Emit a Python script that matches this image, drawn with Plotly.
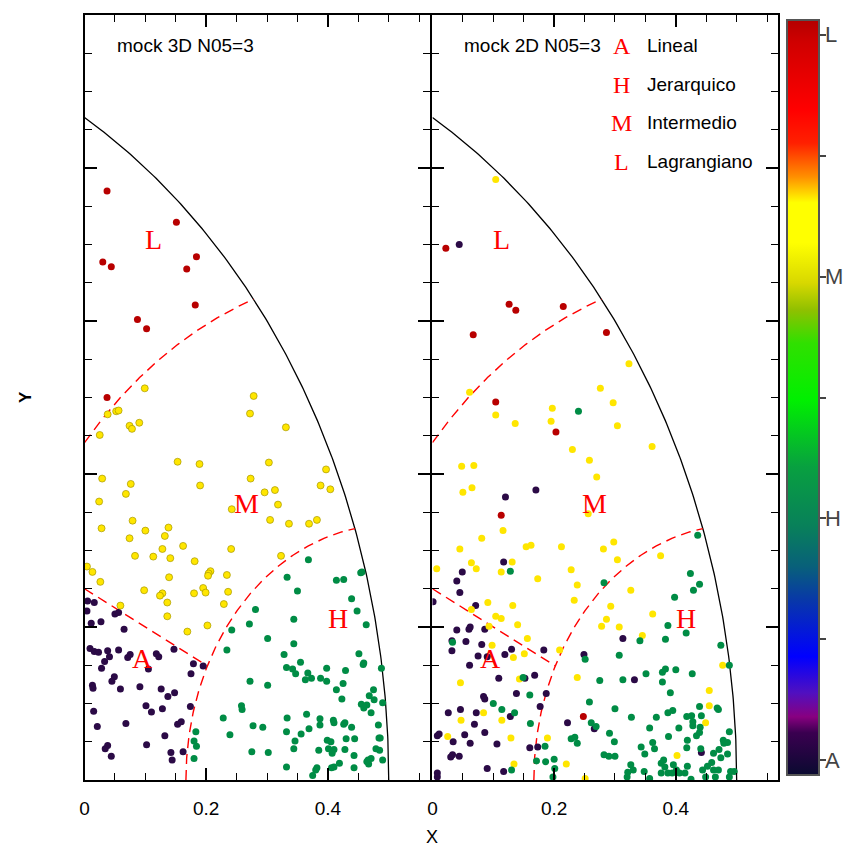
import numpy as np
import plotly.graph_objects as go

# ---------------- data: left panel (mock 3D) ----------------
l3_x = [0.037, 0.151, 0.030, 0.044, 0.184, 0.168, 0.087, 0.102, 0.182, 0.037]
l3_y = [0.770, 0.729, 0.677, 0.671, 0.684, 0.668, 0.602, 0.590, 0.621, 0.500]

m3_x = [0.099, 0.038, 0.052, 0.056, 0.025, 0.074, 0.078, 0.090, 0.278, 0.272,
        0.331, 0.153, 0.189, 0.303, 0.273, 0.397, 0.029, 0.076, 0.068, 0.190,
        0.296, 0.313, 0.318, 0.388, 0.404, 0.024, 0.242, 0.079, 0.305, 0.336,
        0.369, 0.382, 0.028, 0.100, 0.138, 0.132, 0.074, 0.128, 0.162, 0.241,
        0.083, 0.113, 0.141, 0.004, 0.013, 0.026, 0.181, 0.323, 0.207, 0.204,
        0.203, 0.234, 0.139, 0.098, 0.128, 0.124, 0.180, 0.195, 0.199, 0.236,
        0.136, 0.229, 0.059, 0.136, 0.169, 0.202]
m3_y = [0.512, 0.478, 0.482, 0.483, 0.451, 0.463, 0.459, 0.467, 0.502, 0.479,
        0.461, 0.416, 0.413, 0.415, 0.394, 0.406, 0.394, 0.387, 0.374, 0.385,
        0.376, 0.379, 0.360, 0.385, 0.380, 0.364, 0.354, 0.339, 0.340, 0.335,
        0.335, 0.340, 0.329, 0.326, 0.330, 0.319, 0.316, 0.302, 0.306, 0.302,
        0.293, 0.292, 0.290, 0.279, 0.272, 0.259, 0.286, 0.293, 0.273, 0.270,
        0.267, 0.268, 0.265, 0.248, 0.244, 0.241, 0.244, 0.251, 0.245, 0.246,
        0.232, 0.230, 0.228, 0.214, 0.194, 0.202]

a3_x = [0.005, 0.016, 0.004, 0.011, 0.027, 0.050, 0.056, 0.065, 0.009, 0.016,
        0.023, 0.038, 0.041, 0.033, 0.028, 0.056, 0.071, 0.075, 0.118, 0.122,
        0.147, 0.105, 0.179, 0.195, 0.175, 0.049, 0.045, 0.013, 0.014, 0.059,
        0.091, 0.126, 0.148, 0.137, 0.101, 0.110, 0.128, 0.174, 0.015, 0.021,
        0.068, 0.153, 0.159, 0.132, 0.038, 0.034, 0.102, 0.044, 0.142, 0.144, 0.162]
a3_y = [0.234, 0.232, 0.221, 0.205, 0.207, 0.217, 0.219, 0.197, 0.172, 0.168,
        0.167, 0.169, 0.161, 0.155, 0.146, 0.170, 0.160, 0.164, 0.165, 0.161,
        0.171, 0.145, 0.152, 0.149, 0.139, 0.135, 0.129, 0.124, 0.120, 0.119,
        0.122, 0.119, 0.114, 0.109, 0.097, 0.089, 0.093, 0.096, 0.090, 0.070,
        0.074, 0.073, 0.076, 0.058, 0.045, 0.041, 0.046, 0.031, 0.036, 0.026, 0.037]

h3_x = [0.368, 0.333, 0.350, 0.414, 0.426, 0.456, 0.454, 0.439, 0.448, 0.463,
        0.281, 0.271, 0.242, 0.344, 0.301, 0.234, 0.328, 0.344, 0.332, 0.355,
        0.342, 0.347, 0.367, 0.363, 0.373, 0.388, 0.398, 0.398, 0.414, 0.429,
        0.425, 0.423, 0.451, 0.459, 0.458, 0.488, 0.272, 0.301, 0.468, 0.475,
        0.476, 0.455, 0.459, 0.464, 0.471, 0.490, 0.258, 0.259, 0.228, 0.239,
        0.277, 0.293, 0.275, 0.302, 0.183, 0.180, 0.184, 0.180, 0.333, 0.332,
        0.346, 0.356, 0.365, 0.369, 0.344, 0.387, 0.387, 0.409, 0.410, 0.426,
        0.428, 0.439, 0.430, 0.444, 0.385, 0.399, 0.405, 0.401, 0.410, 0.407,
        0.428, 0.443, 0.419, 0.410, 0.406, 0.382, 0.380, 0.375, 0.332, 0.443,
        0.466, 0.467, 0.471, 0.464, 0.479, 0.485, 0.490, 0.484, 0.486, 0.483]
h3_y = [0.288, 0.265, 0.247, 0.261, 0.262, 0.272, 0.271, 0.237, 0.221, 0.203,
        0.223, 0.204, 0.196, 0.210, 0.185, 0.170, 0.164, 0.178, 0.147, 0.154,
        0.145, 0.139, 0.140, 0.131, 0.133, 0.133, 0.129, 0.146, 0.118, 0.143,
        0.126, 0.106, 0.165, 0.153, 0.151, 0.146, 0.129, 0.124, 0.110, 0.118,
        0.105, 0.099, 0.094, 0.098, 0.088, 0.101, 0.097, 0.092, 0.081, 0.059,
        0.071, 0.069, 0.037, 0.036, 0.063, 0.051, 0.044, 0.028, 0.081, 0.063,
        0.051, 0.060, 0.086, 0.067, 0.041, 0.080, 0.072, 0.078, 0.075, 0.073,
        0.075, 0.069, 0.054, 0.054, 0.039, 0.052, 0.050, 0.041, 0.040, 0.035,
        0.040, 0.032, 0.022, 0.017, 0.016, 0.016, 0.013, 0.006, 0.017, 0.016,
        0.026, 0.021, 0.028, 0.024, 0.041, 0.039, 0.026, 0.055, 0.055, 0.072]

# ---------------- data: right panel (mock 2D) ----------------
l2_x = [0.022, 0.126, 0.137, 0.215, 0.067, 0.286, 0.104, 0.203, 0.113, 0.248]
l2_y = [0.695, 0.622, 0.614, 0.619, 0.582, 0.585, 0.494, 0.455, 0.346, 0.083]

m2_x = [0.104, 0.323, 0.061, 0.276, 0.297, 0.197, 0.104, 0.136, 0.195, 0.304, 0.361,
        0.230, 0.258, 0.270, 0.048, 0.068, 0.050, 0.065, 0.256, 0.116, 0.081,
        0.045, 0.154, 0.162, 0.212, 0.281, 0.298, 0.007, 0.064, 0.072, 0.113,
        0.131, 0.173, 0.228, 0.238, 0.233, 0.091, 0.064, 0.132, 0.104, 0.113,
        0.093, 0.140, 0.156, 0.098, 0.133, 0.151, 0.209, 0.326, 0.293, 0.286,
        0.278, 0.307, 0.362, 0.345, 0.375, 0.304, 0.477, 0.455, 0.455, 0.449,
        0.046, 0.143, 0.238, 0.084, 0.047, 0.114, 0.025, 0.129, 0.189, 0.220,
        0.134, 0.251, 0.402]
m2_y = [0.785, 0.544, 0.507, 0.512, 0.493, 0.486, 0.477, 0.466, 0.469, 0.463, 0.436,
        0.432, 0.418, 0.396, 0.410, 0.411, 0.376, 0.382, 0.348, 0.326, 0.316,
        0.302, 0.305, 0.307, 0.305, 0.302, 0.311, 0.276, 0.284, 0.276, 0.272,
        0.285, 0.263, 0.275, 0.255, 0.235, 0.232, 0.223, 0.228, 0.214, 0.211,
        0.201, 0.203, 0.185, 0.176, 0.160, 0.165, 0.170, 0.248, 0.227, 0.210,
        0.201, 0.200, 0.217, 0.189, 0.293, 0.288, 0.150, 0.117, 0.097, 0.075,
        0.127, 0.132, 0.134, 0.088, 0.078, 0.078, 0.057, 0.055, 0.055, 0.021,
        0.021, 0.002, 0.032]

a2_x = [0.044, 0.170, 0.120,
        0.117, 0.049, 0.040, 0.045, 0.001, 0.071, 0.040, 0.060, 0.062, 0.086,
        0.032, 0.032, 0.055, 0.081, 0.075, 0.090, 0.061, 0.119, 0.130, 0.183,
        0.249, 0.313, 0.109, 0.152, 0.168, 0.332, 0.084, 0.086, 0.138, 0.187,
        0.177, 0.046, 0.026, 0.072, 0.128, 0.222, 0.266, 0.069, 0.086, 0.053,
        0.008, 0.011, 0.034, 0.062, 0.106, 0.160, 0.173, 0.033, 0.030, 0.044,
        0.090, 0.117, 0.008, 0.008, 0.442]
a2_y = [0.700, 0.379, 0.370,
        0.285, 0.272, 0.260, 0.245, 0.233, 0.228, 0.196, 0.197, 0.200, 0.197,
        0.182, 0.169, 0.181, 0.177, 0.162, 0.161, 0.150, 0.164, 0.171, 0.170,
        0.164, 0.185, 0.133, 0.133, 0.137, 0.131, 0.109, 0.106, 0.113, 0.113,
        0.096, 0.092, 0.088, 0.088, 0.083, 0.075, 0.067, 0.073, 0.062, 0.059,
        0.058, 0.060, 0.050, 0.048, 0.047, 0.042, 0.043, 0.033, 0.030, 0.031,
        0.015, 0.011, 0.009, 0.004, 0.036]

h2_x = [0.240, 0.436,
        0.128, 0.033, 0.282, 0.307, 0.341, 0.383, 0.387, 0.417, 0.398, 0.424,
        0.439, 0.429, 0.474, 0.488, 0.251, 0.149, 0.160, 0.275, 0.313, 0.351,
        0.378, 0.383, 0.400, 0.427, 0.378, 0.391, 0.100, 0.114, 0.135, 0.258,
        0.300, 0.327, 0.368, 0.387, 0.395, 0.418, 0.426, 0.439, 0.442, 0.428,
        0.428, 0.440, 0.434, 0.405, 0.388, 0.357, 0.362, 0.365, 0.343, 0.349,
        0.291, 0.299, 0.228, 0.234, 0.238, 0.261, 0.269, 0.161, 0.185, 0.171,
        0.186, 0.200, 0.201, 0.198, 0.130, 0.282, 0.290, 0.300, 0.326, 0.330,
        0.321, 0.320, 0.348, 0.357, 0.376, 0.380, 0.382, 0.387, 0.376, 0.396,
        0.401, 0.406, 0.419, 0.425, 0.444, 0.452, 0.459, 0.462, 0.449, 0.465,
        0.470, 0.474, 0.471, 0.462, 0.478, 0.485, 0.488, 0.479, 0.485, 0.490,
        0.496, 0.488, 0.418, 0.419, 0.441, 0.468, 0.470, 0.439, 0.415, 0.394]
h2_y = [0.482, 0.320,
        0.273, 0.180, 0.258, 0.163, 0.182, 0.184, 0.202, 0.192, 0.239, 0.270,
        0.256, 0.248, 0.176, 0.150, 0.158, 0.134, 0.111, 0.130, 0.131, 0.139,
        0.141, 0.145, 0.144, 0.139, 0.128, 0.114, 0.100, 0.092, 0.088, 0.102,
        0.093, 0.082, 0.082, 0.088, 0.091, 0.083, 0.084, 0.096, 0.084, 0.076,
        0.071, 0.069, 0.058, 0.068, 0.057, 0.068, 0.049, 0.041, 0.043, 0.034,
        0.061, 0.050, 0.054, 0.056, 0.048, 0.075, 0.070, 0.074, 0.044, 0.025,
        0.024, 0.027, 0.015, 0.004, 0.013, 0.033, 0.031, 0.031, 0.020, 0.013,
        0.010, 0.004, 0.011, 0.002, 0.022, 0.026, 0.017, 0.009, 0.009, 0.020,
        0.013, 0.009, 0.018, 0.001, 0.013, 0.018, 0.023, 0.013, 0.004, 0.004,
        0.013, 0.029, 0.040, 0.035, 0.052, 0.049, 0.063, 0.048, 0.034, 0.011,
        0.011, 0.004, 0.042, 0.052, 0.041, 0.094, 0.092, 0.062, 0.009, 0.009]

panel_titles = ["mock 3D N05=3", "mock 2D N05=3"]
class_codes = ["A", "H", "M", "L"]
class_names = ["Lineal", "Jerarquico", "Intermedio", "Lagrangiano"]
class_values = [0, 1, 2, 3]
cbar_ticks = [0, 0.5, 1, 1.5, 2, 2.5, 3]
xtick_vals = [0, 0.2, 0.4]
xtick_text = ["0", "0.2", "0.4"]

# geometry of the region boundaries
OUT_C, OUT_R = (-0.5, 0.0), 1.0          # outer boundary circle
CL_C = (0.5, 0.0)                         # centre of the class circles
R_H, R_M = 1.0 / 3.0, 2.0 / 3.0
A_Y0 = 0.25                               # A boundary starts at (0, A_Y0)

COLORS = {"A": "#2b0a46", "H": "#008c45", "M": "#ffe600", "L": "#b80000"}
W = H = 846
X0L, X1L, X0R, X1R = 80, 428, 430, 778
PXU = 612.0                               # pixels per x unit
YT, YB = 15, 780
CB_X, CB_TOP, CB_LEN, CB_THICK = 787, 20, 755, 32
CMIN, CMAX = -0.06, 3.06

colorscale = [
    [0.000, "#0a0a30"], [0.056, "#3a0050"], [0.077, "#880080"], [0.109, "#5010c0"],
    [0.157, "#0000ff"], [0.232, "#0838a8"], [0.276, "#08607a"], [0.329, "#08805a"],
    [0.408, "#08a040"], [0.497, "#00f000"], [0.572, "#30e000"], [0.616, "#90c000"],
    [0.652, "#d8d800"], [0.705, "#ffff00"], [0.758, "#ffff00"], [0.792, "#ff9000"],
    [0.837, "#ff2000"], [0.881, "#ff0000"], [0.970, "#d00000"], [1.000, "#b40000"],
]

fig = go.Figure()


def arc(c, r, t0, t1, n=200):
    t = np.linspace(t0, t1, n)
    return c[0] + r * np.cos(t), c[1] + r * np.sin(t)


def outer_intersect(r):
    d = CL_C[0] - OUT_C[0]
    xi = OUT_C[0] + (d ** 2 + OUT_R ** 2 - r ** 2) / (2 * d)
    yi = np.sqrt(OUT_R ** 2 - (xi - OUT_C[0]) ** 2)
    return xi, yi


def add_boundaries(xa, ya):
    t_top = np.arctan2(np.sqrt(OUT_R ** 2 - OUT_C[0] ** 2), -OUT_C[0])
    ox, oy = arc(OUT_C, OUT_R, 0, t_top)
    fig.add_trace(go.Scatter(x=ox, y=oy, mode="lines", xaxis=xa, yaxis=ya,
                             line=dict(color="black", width=1.3), hoverinfo="skip"))
    dash = dict(color="#ff0000", width=1.4, dash="10px,6px")
    xi, yi = outer_intersect(R_H)
    hx, hy = arc(CL_C, R_H, np.pi, np.arctan2(yi, xi - CL_C[0]))
    fig.add_trace(go.Scatter(x=hx, y=hy, mode="lines", xaxis=xa, yaxis=ya,
                             line=dash, hoverinfo="skip"))
    xi, yi = outer_intersect(R_M)
    t_start = np.arctan2(np.sqrt(R_M ** 2 - CL_C[0] ** 2), -CL_C[0])
    mx, my = arc(CL_C, R_M, t_start, np.arctan2(yi, xi - CL_C[0]))
    fig.add_trace(go.Scatter(x=mx, y=my, mode="lines", xaxis=xa, yaxis=ya,
                             line=dash, hoverinfo="skip"))
    dx, dy = CL_C[0] - 0, CL_C[1] - A_Y0
    dist = np.hypot(dx, dy)
    s = (dist - R_H) / dist
    fig.add_trace(go.Scatter(x=[0, dx * s], y=[A_Y0, A_Y0 + dy * s], mode="lines",
                             xaxis=xa, yaxis=ya, line=dash, hoverinfo="skip"))


def add_points(xs, ys, cls, xa, ya, outline):
    line = dict(color="#a89800", width=0.7) if (outline and cls == "M") else dict(width=0)
    fig.add_trace(go.Scatter(x=xs, y=ys, mode="markers", xaxis=xa, yaxis=ya,
                             marker=dict(size=7, color=COLORS[cls], line=line),
                             hoverinfo="skip"))


for xa, ya, sets, outline in [
    ("x", "y", [(a3_x, a3_y, "A"), (h3_x, h3_y, "H"), (m3_x, m3_y, "M"), (l3_x, l3_y, "L")], True),
    ("x2", "y2", [(a2_x, a2_y, "A"), (m2_x, m2_y, "M"), (h2_x, h2_y, "H"), (l2_x, l2_y, "L")], False),
]:
    add_boundaries(xa, ya)
    for xs, ys, c in sets:
        add_points(xs, ys, c, xa, ya, outline)

# colour bar carrier (invisible); labels drawn as annotations so the bar
# does not push the right margin
fig.add_trace(go.Scatter(
    x=[0.5], y=[0.95], mode="markers", xaxis="x", yaxis="y", hoverinfo="skip",
    marker=dict(size=1, opacity=0, color=[1.5], cmin=CMIN, cmax=CMAX,
                colorscale=colorscale, showscale=True,
                colorbar=dict(x=CB_X / W, xanchor="left", xpad=0, ypad=0,
                              y=1 - CB_TOP / H, yanchor="top", lenmode="pixels", len=CB_LEN,
                              thickness=CB_THICK, outlinewidth=2, outlinecolor="#555555",
                              ticks="outside", ticklen=6, tickwidth=1.5, tickcolor="#444444",
                              tickvals=cbar_ticks, showticklabels=False))))

ydom = [1 - YB / H, 1 - YT / H]
axis_common = dict(showline=True, linewidth=2, linecolor="black", mirror="ticks",
                   ticks="inside", ticklen=12, tickwidth=1.5, tickcolor="black",
                   showgrid=False, zeroline=False)
minor = dict(ticks="inside", ticklen=7, tickwidth=1.2, tickcolor="black", dtick=0.05, tick0=0)
xcommon = dict(axis_common, tickvals=xtick_vals, ticktext=xtick_text,
               tickfont=dict(family="Liberation Sans", size=19, color="black"),
               ticklabelstandoff=10, minor=minor)
ycommon = dict(axis_common, range=[0, 1.0], dtick=0.2, tick0=0, showticklabels=False, minor=minor)

fig.update_layout(
    width=W, height=H, autosize=False, margin=dict(l=0, r=0, t=0, b=0, pad=0),
    paper_bgcolor="white", plot_bgcolor="white", showlegend=False,
    xaxis=dict(xcommon, domain=[X0L / W, X1L / W], range=[0, (X1L - X0L) / PXU], anchor="y"),
    xaxis2=dict(xcommon, domain=[X0R / W, X1R / W], range=[0, (X1R - X0R) / PXU], anchor="y2"),
    yaxis=dict(ycommon, domain=ydom, anchor="x"),
    yaxis2=dict(ycommon, domain=ydom, anchor="x2"),
)

ann = []
for i, t in enumerate(panel_titles):
    ann.append(dict(text=t, xref="paper", yref="paper", x=(111 if i == 0 else 460) / W,
                    y=1 - 46 / H, xanchor="left", yanchor="middle", showarrow=False,
                    font=dict(family="Liberation Sans", size=19, color="black")))
region_pos = {"L": (0.114, 0.706), "M": (0.266, 0.362), "H": (0.417, 0.211), "A": (0.095, 0.159)}
for xr, yr in [("x", "y"), ("x2", "y2")]:
    for c, (px, py) in region_pos.items():
        ann.append(dict(text=c, xref=xr, yref=yr, x=px, y=py, showarrow=False,
                        xanchor="center", yanchor="middle",
                        font=dict(family="Liberation Serif", size=28, color="#ff0000")))
rows_y = [46, 84.5, 122.5, 161.5]
for c, name, ry in zip(class_codes, class_names, rows_y):
    ann.append(dict(text=c, xref="paper", yref="paper", x=620.5 / W, y=1 - ry / H,
                    xanchor="center", yanchor="middle", showarrow=False,
                    font=dict(family="Liberation Serif", size=24, color="#ff0000")))
    ann.append(dict(text=name, xref="paper", yref="paper", x=644 / W, y=1 - ry / H,
                    xanchor="left", yanchor="middle", showarrow=False,
                    font=dict(family="Liberation Sans", size=19, color="black")))
# colour bar labels
for c, v in zip(class_codes, class_values):
    ypx = CB_TOP + (CMAX - v) / (CMAX - CMIN) * CB_LEN
    ann.append(dict(text=c, xref="paper", yref="paper", x=824 / W, y=1 - ypx / H,
                    xanchor="left", yanchor="middle", showarrow=False, borderpad=0,
                    font=dict(family="Liberation Sans", size=22, color="#444444")))
ann.append(dict(text="X", xref="paper", yref="paper", x=430 / W, y=1 - 837 / H,
                xanchor="center", yanchor="middle", showarrow=False,
                font=dict(family="Liberation Sans", size=18, color="black")))
ann.append(dict(text="<b>Y</b>", xref="paper", yref="paper", x=20 / W, y=1 - 397 / H,
                xanchor="center", yanchor="middle", showarrow=False, textangle=-90,
                font=dict(family="Liberation Sans", size=17, color="black")))
fig.update_layout(annotations=ann)

fig.write_html("out.html")
